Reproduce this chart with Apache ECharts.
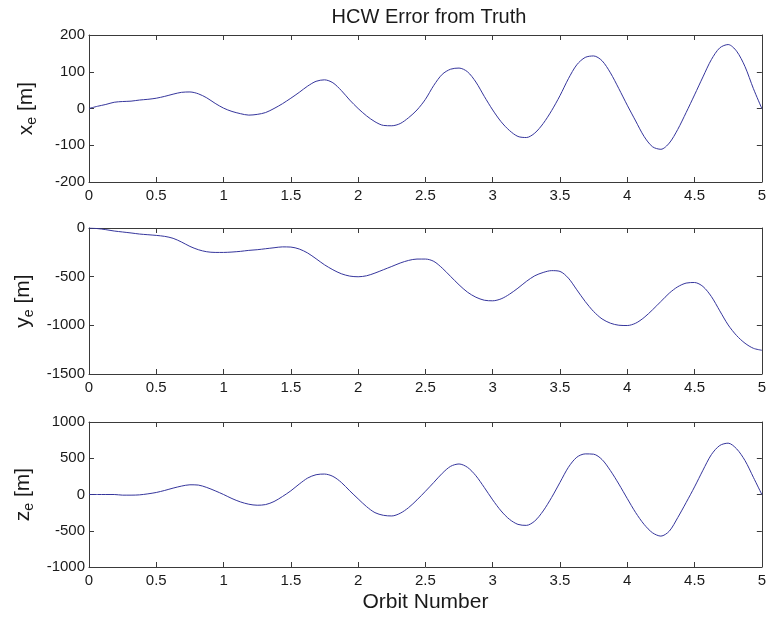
<!DOCTYPE html>
<html>
<head>
<meta charset="utf-8">
<script src="https://cdn.jsdelivr.net/npm/echarts@6/dist/echarts.min.js"></script>
<style>
  html, body { margin: 0; padding: 0; background: #fff; }
  #chart { width: 769px; height: 618px; }
</style>
</head>
<body>
<div id="chart"></div>
<script>
// Orbit number samples (every 1/16 orbit)
const orbit = [
  0, 0.0625, 0.125, 0.1875, 0.25, 0.3125, 0.375, 0.4375, 0.5, 0.5625, 0.625, 0.6875, 0.75, 0.8125, 0.875, 0.9375,
  1, 1.0625, 1.125, 1.1875, 1.25, 1.3125, 1.375, 1.4375, 1.5, 1.5625, 1.625, 1.6875, 1.75, 1.8125, 1.875, 1.9375,
  2, 2.0625, 2.125, 2.1875, 2.25, 2.3125, 2.375, 2.4375, 2.5, 2.5625, 2.625, 2.6875, 2.75, 2.8125, 2.875, 2.9375,
  3, 3.0625, 3.125, 3.1875, 3.25, 3.3125, 3.375, 3.4375, 3.5, 3.5625, 3.625, 3.6875, 3.75, 3.8125, 3.875, 3.9375,
  4, 4.0625, 4.125, 4.1875, 4.25, 4.3125, 4.375, 4.4375, 4.5, 4.5625, 4.625, 4.6875, 4.75, 4.8125, 4.875, 4.9375,
  5];

// Radial error x_e [m]
const xErr = [
  0, 6, 11, 17, 19, 20, 23, 25, 28, 33, 39, 44, 45, 40, 29, 14,
  1, -8, -14, -18, -16, -11, 0, 13, 28, 44, 61, 74, 78, 70, 49, 23,
  0, -20, -36, -46, -47, -41, -25, -4, 25, 63, 93, 107, 110, 100, 72, 33,
  -4, -36, -60, -76, -79, -67, -41, -6, 35, 81, 119, 139, 143, 130, 97, 54,
  9, -34, -76, -104, -111, -94, -57, -11, 37, 86, 133, 165, 174, 156, 114, 54,
  0];

// Along-track error y_e [m]
const yErr = [
  0, -6, -17, -31, -41, -51, -62, -69, -76, -86, -106, -144, -189, -223, -244, -251,
  -251, -247, -240, -230, -223, -213, -203, -194, -196, -216, -257, -316, -378, -429, -470, -494,
  -501, -491, -463, -429, -395, -360, -333, -319, -319, -343, -412, -498, -584, -659, -711, -742,
  -748, -728, -680, -618, -549, -491, -457, -438, -446, -515, -635, -755, -858, -934, -978, -999,
  -1002, -978, -920, -841, -755, -669, -604, -566, -560, -601, -704, -851, -996, -1105, -1184, -1236,
  -1256];

// Cross-track error z_e [m]
const zErr = [
  0, 0, 0, 0, -9, -9, -5, 9, 28, 56, 88, 116, 134, 130, 97, 51,
  0, -56, -102, -134, -148, -139, -97, -28, 51, 144, 227, 273, 282, 250, 167, 51,
  -60, -167, -250, -287, -296, -259, -181, -74, 44, 167, 292, 389, 421, 375, 259, 97,
  -74, -227, -343, -412, -426, -366, -227, -42, 167, 375, 514, 560, 556, 482, 329, 144,
  -56, -250, -412, -528, -574, -505, -319, -111, 105, 335, 550, 676, 708, 630, 468, 236,
  0];

// Y-axis ranges and tick spacing per panel
const yMin = [-200, -1500, -1000];
const yMax = [200, 0, 1000];
const yStep = [100, 500, 500];
const yNames = ['x', 'y', 'z'];

const FONT = 'Liberation Sans, Arial, sans-serif';
const AXIS_COLOR = '#3a3a3a';
const TEXT_COLOR = '#1a1a1a';
const LINE_COLOR = '#35359c';

const grids = [
  { left: 89, right: 7, top: 35, height: 147 },
  { left: 89, right: 7, top: 228, height: 146 },
  { left: 89, right: 7, top: 422, height: 145 }
];

const xAxes = [];
const yAxes = [];
const series = [];
const values = [xErr, yErr, zErr];
const plain = v => String(v);

grids.forEach((g, i) => {
  // bottom axis with labels
  xAxes.push({
    gridIndex: i, type: 'value', min: 0, max: 5, interval: 0.5, position: 'bottom',
    axisLine: { show: true, onZero: false, lineStyle: { color: AXIS_COLOR, width: 1 } },
    axisTick: { show: true, inside: true, length: 5, lineStyle: { color: AXIS_COLOR } },
    axisLabel: { show: true, color: TEXT_COLOR, fontFamily: FONT, fontSize: 15, margin: 6, formatter: plain },
    splitLine: { show: false },
    name: i === 2 ? 'Orbit Number' : '',
    nameLocation: 'middle', nameGap: 25,
    nameTextStyle: { color: TEXT_COLOR, fontFamily: FONT, fontSize: 21 }
  });
  // mirrored top axis, ticks only
  xAxes.push({
    gridIndex: i, type: 'value', min: 0, max: 5, interval: 0.5, position: 'top',
    axisLine: { show: true, onZero: false, lineStyle: { color: AXIS_COLOR, width: 1 } },
    axisTick: { show: true, inside: true, length: 5, lineStyle: { color: AXIS_COLOR } },
    axisLabel: { show: false }, splitLine: { show: false }
  });
  // left axis with labels
  yAxes.push({
    gridIndex: i, type: 'value', min: yMin[i], max: yMax[i], interval: yStep[i], position: 'left',
    axisLine: { show: true, onZero: false, lineStyle: { color: AXIS_COLOR, width: 1 } },
    axisTick: { show: true, inside: true, length: 5, lineStyle: { color: AXIS_COLOR } },
    axisLabel: { show: true, color: TEXT_COLOR, fontFamily: FONT, fontSize: 15, margin: 4, formatter: plain },
    splitLine: { show: false },
    name: '{m|' + yNames[i] + '}{s|e}{m| [m]}',
    nameLocation: 'middle', nameRotate: 90, nameGap: 50,
    nameTextStyle: {
      color: TEXT_COLOR, fontFamily: FONT,
      rich: {
        m: { fontSize: 21, fontFamily: FONT, color: TEXT_COLOR, lineHeight: 24 },
        s: { fontSize: 14, fontFamily: FONT, color: TEXT_COLOR, padding: [12, 0, 0, 0] }
      }
    }
  });
  // mirrored right axis, ticks only
  yAxes.push({
    gridIndex: i, type: 'value', min: yMin[i], max: yMax[i], interval: yStep[i], position: 'right',
    axisLine: { show: true, onZero: false, lineStyle: { color: AXIS_COLOR, width: 1 } },
    axisTick: { show: true, inside: true, length: 5, lineStyle: { color: AXIS_COLOR } },
    axisLabel: { show: false }, splitLine: { show: false }
  });
  series.push({
    type: 'line', xAxisIndex: i * 2, yAxisIndex: i * 2,
    data: orbit.map((t, k) => [t, values[i][k]]),
    smooth: 0.3, symbol: 'none',
    lineStyle: { color: LINE_COLOR, width: 1 },
    clip: true, silent: true, animation: false
  });
});

const chart = echarts.init(document.getElementById('chart'), null, { renderer: 'canvas' });
chart.setOption({
  animation: false,
  backgroundColor: '#fff',
  title: {
    text: 'HCW Error from Truth', left: 424, top: 2, textAlign: 'center',
    textStyle: { color: TEXT_COLOR, fontFamily: FONT, fontSize: 20, fontWeight: 'normal' }
  },
  grid: grids,
  xAxis: xAxes,
  yAxis: yAxes,
  series: series
});
</script>
</body>
</html>
